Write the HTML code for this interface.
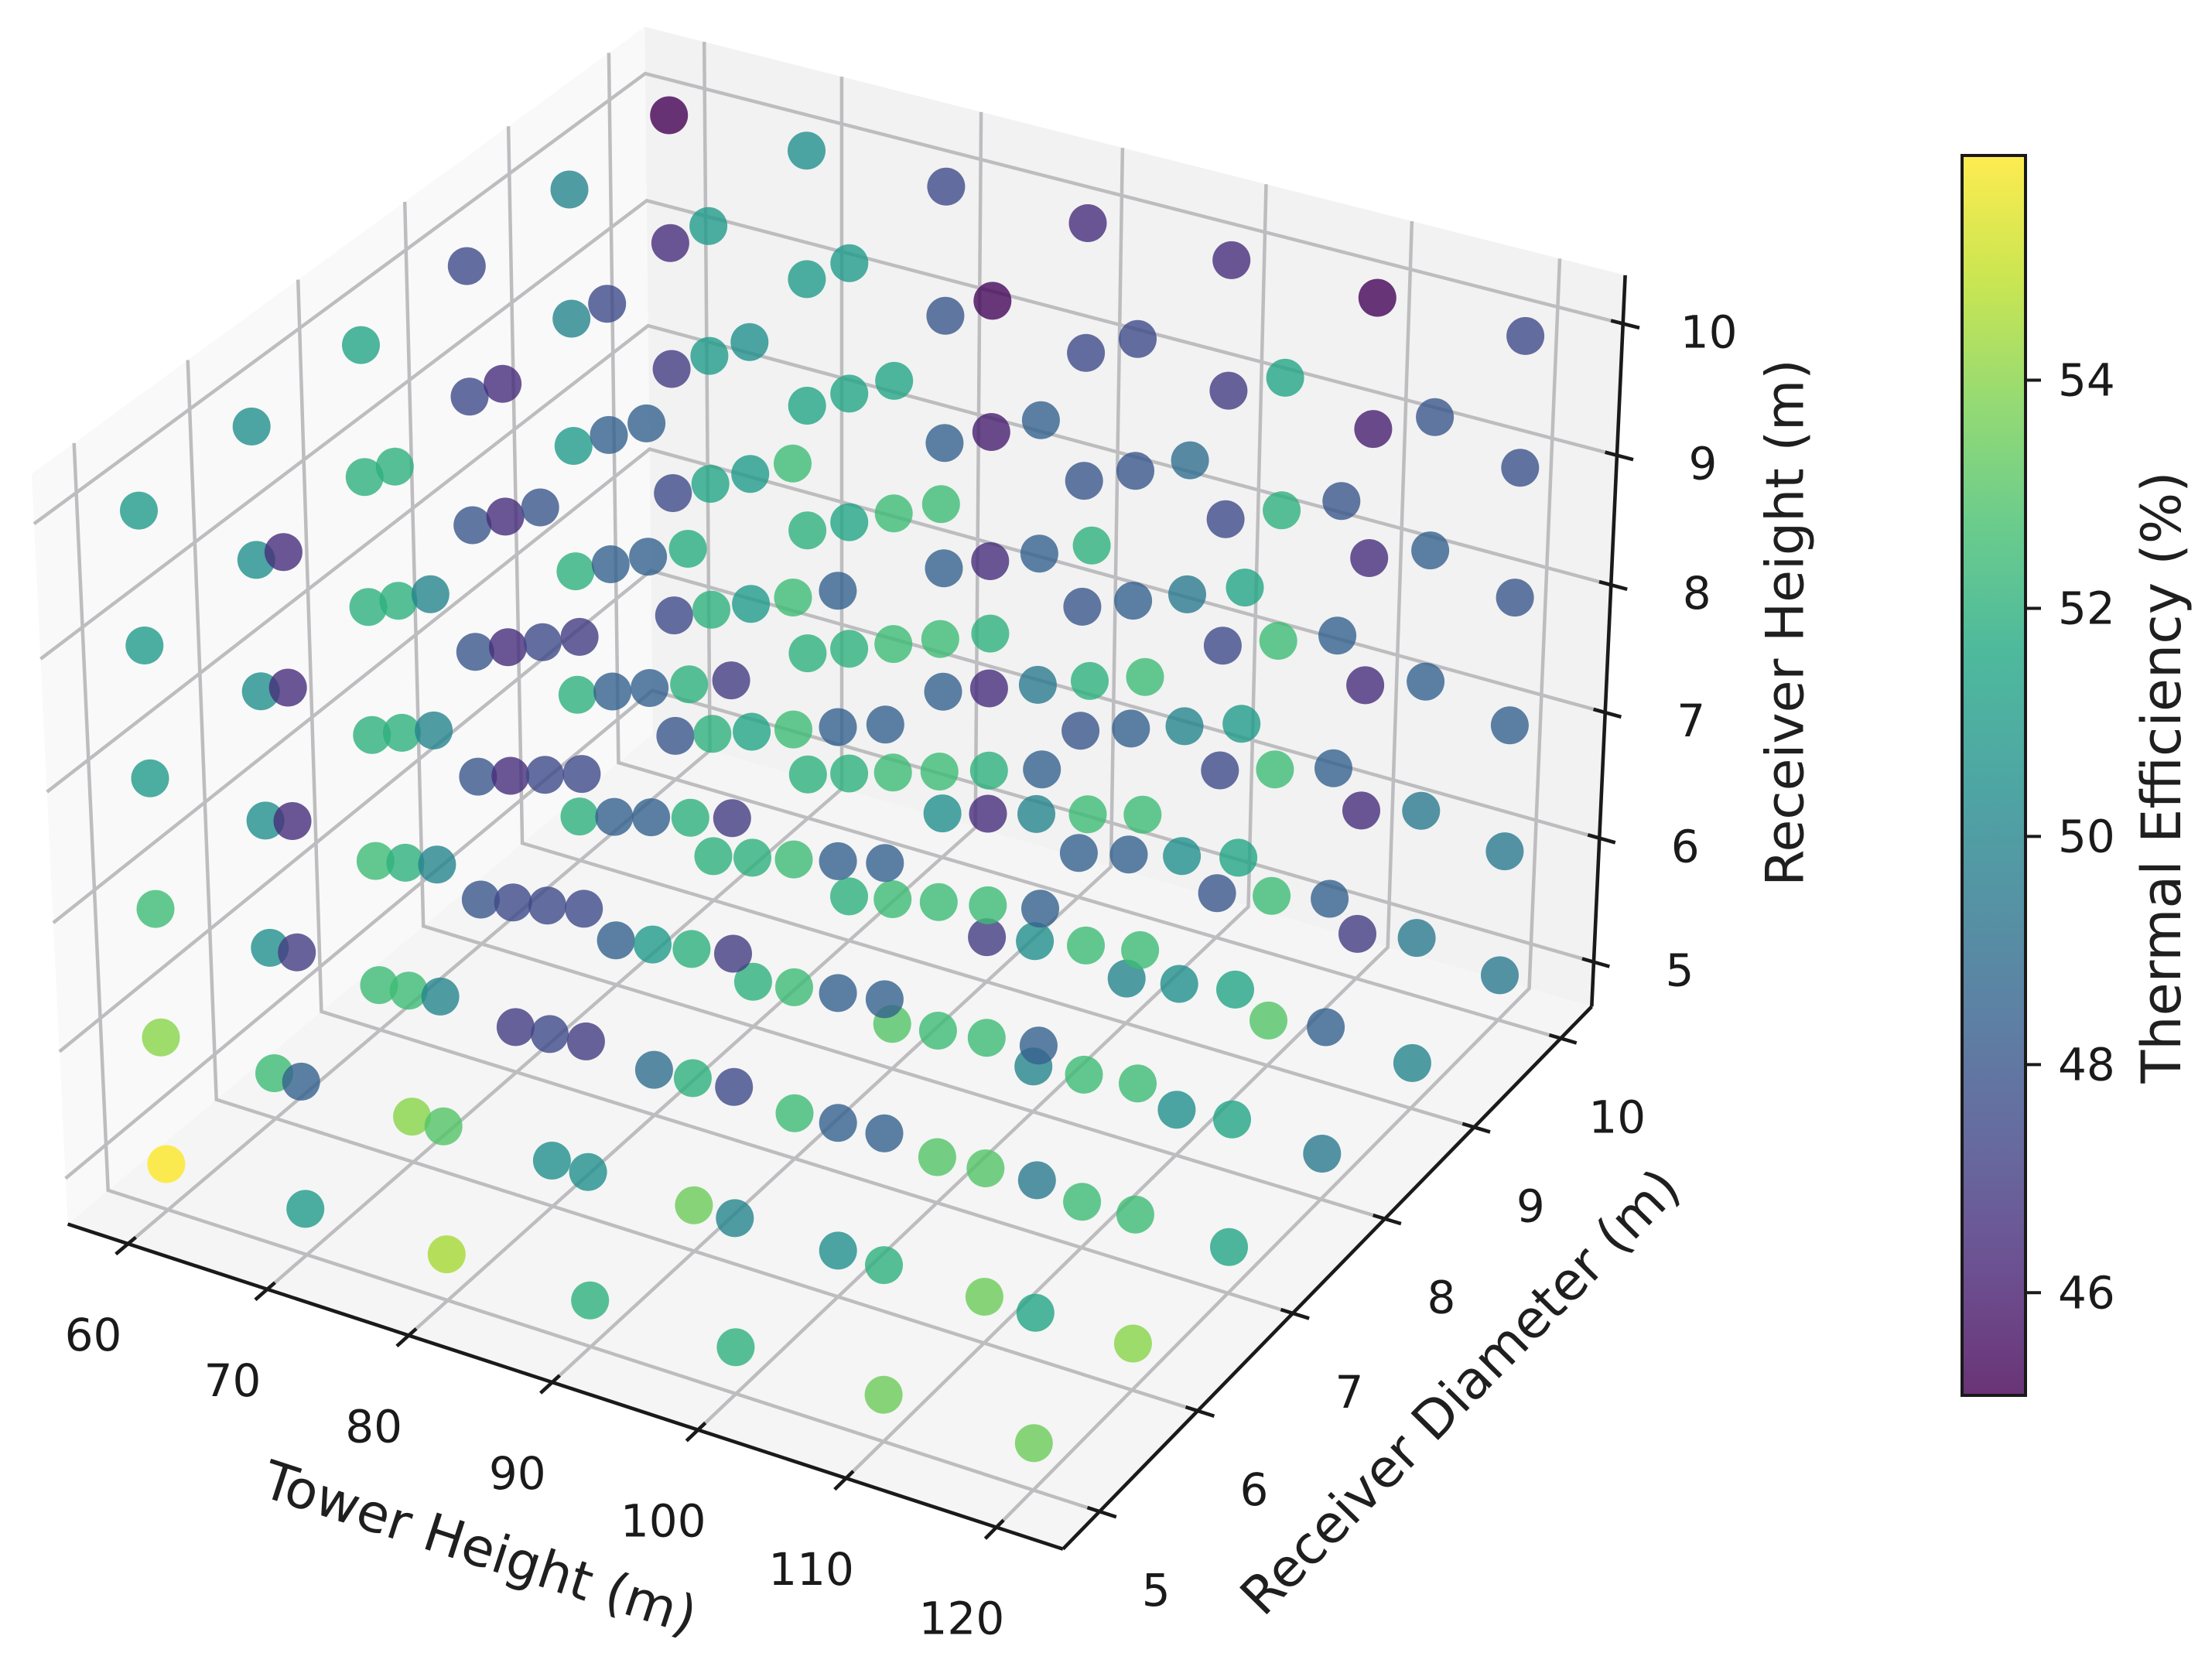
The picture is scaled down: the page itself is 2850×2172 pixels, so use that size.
<!DOCTYPE html>
<html><head><meta charset="utf-8">
<style>
html,body{margin:0;padding:0;background:#fff;}
svg{display:block;font-family:"DejaVu Sans","Liberation Sans",sans-serif;}
</style></head>
<body>
<svg id="chart" width="2850" height="2172" viewBox="0 0 2850 2172" xmlns="http://www.w3.org/2000/svg">
<defs>
<linearGradient id="vir" x1="0" y1="1" x2="0" y2="0">
<stop offset="0" stop-color="#440154" stop-opacity="0.8"/>
<stop offset="0.1" stop-color="#482475" stop-opacity="0.8"/>
<stop offset="0.2" stop-color="#414487" stop-opacity="0.8"/>
<stop offset="0.3" stop-color="#355f8d" stop-opacity="0.8"/>
<stop offset="0.4" stop-color="#2a788e" stop-opacity="0.8"/>
<stop offset="0.5" stop-color="#21918c" stop-opacity="0.8"/>
<stop offset="0.6" stop-color="#22a884" stop-opacity="0.8"/>
<stop offset="0.7" stop-color="#44bf70" stop-opacity="0.8"/>
<stop offset="0.8" stop-color="#7ad151" stop-opacity="0.8"/>
<stop offset="0.9" stop-color="#bddf26" stop-opacity="0.8"/>
<stop offset="1" stop-color="#fde725" stop-opacity="0.8"/>
</linearGradient>
</defs>
<g id="panes"></g>
<g id="grid"></g>
<g id="axes"></g>
<g id="points"></g>
<g id="cbar"></g>
<text x="620" y="2002" font-size="68" fill="#1f1f1f" text-anchor="middle" dominant-baseline="central" transform="rotate(18 620 2002)">Tower Height (m)</text>
<text x="1888" y="1800" font-size="68" fill="#1f1f1f" text-anchor="middle" dominant-baseline="central" transform="rotate(-45.5 1888 1800)">Receiver Diameter (m)</text>
<text x="2308" y="805" font-size="68" fill="#1f1f1f" text-anchor="middle" dominant-baseline="central" transform="rotate(-90 2308 805)">Receiver Height (m)</text>
<text x="2794" y="1005" font-size="70" fill="#1f1f1f" text-anchor="middle" dominant-baseline="central" transform="rotate(-90 2794 1005)">Thermal Efficiency (%)</text>
</svg>
<script>
const towers = [60, 70, 80, 90, 100, 110, 120];
const diameters = [5, 6, 7, 8, 9, 10];
const heights = [5, 6, 7, 8, 9, 10];
const xTicks = [60, 70, 80, 90, 100, 110, 120];
const yTicks = [5, 6, 7, 8, 9, 10];
const zTicks = [5, 6, 7, 8, 9, 10];
const cbarTicks = [46, 48, 50, 52, 54];
// efficiency per receiver height layer; rows = diameter 5..10, columns = tower 60..120
const effH5 = [
 55.97, 51, 54.5, 52, 52, 53.5, 53.5,
 52.5, 54, 50.5, 53.5, 50.5, 53.5, 54,
 52.5, 47, 49, 52.5, 53, 52.5, 51.5,
 48, 48.5, 52, 53, 50, 50.5, 49.5,
 52, 52, 52, 47, 50, 53, 50,
 48, 52, 50.5, 48.5, 48, 47, 49.5];
const effH6 = [
 54, 48.5, 53, 50.5, 50, 52, 51.5,
 50.5, 52.5, 47.5, 52, 48.5, 53, 52.5,
 52.5, 47.5, 51, 52.5, 52.5, 52.5, 51.5,
 48, 48.5, 52, 52.5, 50.5, 50.5, 48.5,
 52, 52, 52, 46.5, 48.5, 52.5, 49.5,
 47.5, 52, 48.5, 48, 47.5, 46.5, 49.5];
const effH7 = [
 52.5, 47, 50, 47, 47.5, 48.5, 49.5,
 50.5, 52, 47.5, 52, 48.5, 52.5, 52.5,
 52, 46.5, 48.5, 52.5, 52.5, 52.5, 51.5,
 48, 48.5, 51.5, 52.5, 50, 50.5, 48.5,
 52, 52, 52, 46.5, 48.5, 52.5, 49.5,
 47.5, 52, 48.5, 48, 47.5, 46.5, 48.5];
const effH8 = [
 51, 46.5, 50, 47.5, 47, 48.5, 48.5,
 50.5, 52, 47.5, 52, 48.5, 52.5, 52.5,
 52, 46.5, 48.5, 52.5, 52.5, 52.5, 51.5,
 48, 48.5, 51, 52.5, 49.5, 50, 48.5,
 51, 51.5, 51.5, 46.5, 48.5, 52.5, 48.5,
 47, 51.5, 48.5, 48, 47.5, 46.5, 48];
const effH9 = [
 51, 46.5, 50, 47.5, 47, 48.5, 48.5,
 50.5, 52, 47.5, 52, 48.5, 52, 52.5,
 52, 46.5, 48.5, 52.5, 52.5, 52, 51,
 47.5, 48.5, 51, 52.5, 48.5, 49.5, 48.5,
 50, 51, 51.5, 46, 48, 52, 48.5,
 46.5, 51, 48, 47.5, 47, 46, 47.8];
const effH10 = [
 51, 46.5, 50, 47, 47, 48.5, 48.5,
 50.5, 52, 48, 51.8, 48.5, 52, 52.5,
 51.5, 46.5, 48.5, 52.5, 52.5, 52, 51.5,
 47.5, 47.5, 50.5, 51.5, 48.5, 49, 48,
 50, 51, 51, 45.3, 47.5, 51.5, 48,
 45.1, 50.5, 47.5, 46.5, 46.5, 45.2, 47.5];
const effLayers = [effH5, effH6, effH7, effH8, effH9, effH10];

const NS = 'http://www.w3.org/2000/svg';
function mk(tag, attrs, parent){
  const e = document.createElementNS(NS, tag);
  for (const k in attrs) e.setAttribute(k, attrs[k]);
  parent.appendChild(e);
  return e;
}
function lim(arr){
  const mn = Math.min(...arr), mx = Math.max(...arr), r = mx - mn;
  return [mn - 0.05*r, mx + 0.05*r];
}
const XL = lim(towers), YL = lim(diameters), ZL = lim(heights);
function ext(L){ const d = (L[1]-L[0])/48; return [L[0]-d, L[1]+d]; }
const XE = ext(XL), YE = ext(YL), ZE = ext(ZL);
const AX = 4/Math.sqrt(41)*1.8294640721620434, AZ = 3/Math.sqrt(41)*1.8294640721620434;
const K = 12378, CX = 1090.6, CY = 971.3;
function proj(x, y, z){
  const a = ((x-XL[0])/(XL[1]-XL[0]) - 0.5)*AX;
  const b = ((y-YL[0])/(YL[1]-YL[0]) - 0.5)*AX;
  const c = ((z-ZL[0])/(ZL[1]-ZL[0]) - 0.5)*AZ;
  const sx = 0.866025*a + 0.5*b;
  const sy = -0.25*a + 0.433013*b + 0.866025*c;
  const sz = 0.433013*a - 0.75*b + 0.5*c - 10;
  return [CX + K*sx/(-sz), CY - K*sy/(-sz), -sz];
}
function pts(list){ return list.map(p => { const q = proj(p[0], p[1], p[2]); return q[0].toFixed(1)+','+q[1].toFixed(1); }).join(' '); }

const gP = document.getElementById('panes');
let e;
e = mk('polygon', {points: pts([[XE[0],YE[0],ZE[0]],[XE[0],YE[1],ZE[0]],[XE[0],YE[1],ZE[1]],[XE[0],YE[0],ZE[1]]]), fill:'#f9f9f9'}, gP);


e = mk('polygon', {points: pts([[XE[0],YE[1],ZE[0]],[XE[1],YE[1],ZE[0]],[XE[1],YE[1],ZE[1]],[XE[0],YE[1],ZE[1]]]), fill:'#f2f2f2'}, gP);


e = mk('polygon', {points: pts([[XE[0],YE[0],ZE[0]],[XE[1],YE[0],ZE[0]],[XE[1],YE[1],ZE[0]],[XE[0],YE[1],ZE[0]]]), fill:'#f5f5f5'}, gP);



const gG = document.getElementById('grid');
const gs = {fill:'none', stroke:'#bdbdc0', 'stroke-width':4.5};
xTicks.forEach(t => {
  e = mk('polyline', Object.assign({points: pts([[t,YE[0],ZE[0]],[t,YE[1],ZE[0]],[t,YE[1],ZE[1]]])}, gs), gG);
  
  
});
yTicks.forEach(t => {
  e = mk('polyline', Object.assign({points: pts([[XE[1],t,ZE[0]],[XE[0],t,ZE[0]],[XE[0],t,ZE[1]]])}, gs), gG);
  
  
});
zTicks.forEach(t => {
  e = mk('polyline', Object.assign({points: pts([[XE[0],YE[0],t],[XE[0],YE[1],t],[XE[1],YE[1],t]])}, gs), gG);
  
  
});

const gA = document.getElementById('axes');
const as = {fill:'none', stroke:'#1a1a1a', 'stroke-width':4.6};
e = mk('polyline', Object.assign({points: pts([[XE[0],YE[0],ZE[0]],[XE[1],YE[0],ZE[0]]])}, as), gA);


e = mk('polyline', Object.assign({points: pts([[XE[1],YE[0],ZE[0]],[XE[1],YE[1],ZE[0]]])}, as), gA);


e = mk('polyline', Object.assign({points: pts([[XE[1],YE[1],ZE[0]],[XE[1],YE[1],ZE[1]]])}, as), gA);


const tf = {fill:'#1a1a1a', 'font-size':58, 'text-anchor':'middle', 'dominant-baseline':'central'};
xTicks.forEach(t => {
  e = mk('polyline', Object.assign({points: pts([[t,YE[0]-0.11,ZE[0]],[t,YE[0]+0.07,ZE[0]]])}, as), gA);
  
  
  const p = proj(t, YE[0], ZE[0]);
  e = mk('text', Object.assign({x:(p[0]-45).toFixed(1), y:(p[1]+118).toFixed(1)}, tf), gA);
  e.textContent = String(t);
  
  
});
yTicks.forEach(t => {
  e = mk('polyline', Object.assign({points: pts([[XE[1]-0.8,t,ZE[0]],[XE[1]+1.1,t,ZE[0]]])}, as), gA);
  
  
  const p = proj(XE[1], t, ZE[0]);
  e = mk('text', Object.assign({x:(p[0]+73).toFixed(1), y:(p[1]+102).toFixed(1)}, tf), gA);
  e.textContent = String(t);
  
  
});
zTicks.forEach(t => {
  e = mk('polyline', Object.assign({points: pts([[XE[1]-0.8,YE[1],t],[XE[1]+1.1,YE[1],t]])}, as), gA);
  
  
  const p = proj(XE[1], YE[1], t);
  e = mk('text', Object.assign({x:(p[0]+111).toFixed(1), y:(p[1]+11).toFixed(1)}, tf), gA);
  e.textContent = String(t);
  
  
});

const VIR = ['#440154','#482475','#414487','#355f8d','#2a788e','#21918c','#22a884','#44bf70','#7ad151','#bddf26','#fde725'];
function hex2(h){ return [parseInt(h.substr(1,2),16), parseInt(h.substr(3,2),16), parseInt(h.substr(5,2),16)]; }
function cmap(t){
  t = Math.max(0, Math.min(1, t));
  const s = t*10, i = Math.min(9, Math.floor(s)), f = s - i;
  const a = hex2(VIR[i]), b = hex2(VIR[i+1]);
  return 'rgb(' + a.map((v,k) => Math.round(v + (b[k]-v)*f)).join(',') + ')';
}
const allEff = [].concat(...effLayers);
const vmin = Math.min(...allEff), vmax = Math.max(...allEff);

const recs = [];
heights.forEach((z, zi) => {
  diameters.forEach((y, yi) => {
    towers.forEach((x, xi) => {
      const v = effLayers[zi][yi*towers.length + xi];
      const p = proj(x, y, z);
      recs.push({x, y, z, v, p});
    });
  });
});
recs.sort((A, B) => B.p[2] - A.p[2]);
const gPts = document.getElementById('points');
recs.forEach(r => {
  e = mk('circle', {cx:r.p[0].toFixed(1), cy:r.p[1].toFixed(1), r:24.5, fill:cmap((r.v-vmin)/(vmax-vmin)), 'fill-opacity':0.8}, gPts);
  
  
});

const gC = document.getElementById('cbar');
const CB = {x0:2536, x1:2618, top:201, bot:1804};
e = mk('rect', {x:CB.x0, y:CB.top, width:CB.x1-CB.x0, height:CB.bot-CB.top, fill:'url(#vir)', stroke:'#1a1a1a', 'stroke-width':4}, gC);


cbarTicks.forEach(t => {
  const yy = CB.bot - (t - vmin)/(vmax - vmin)*(CB.bot - CB.top);
  e = mk('line', {x1:CB.x1, x2:CB.x1+20, y1:yy, y2:yy, stroke:'#1a1a1a', 'stroke-width':4}, gC);
  
  
  e = mk('text', {x:2660, y:yy.toFixed(1), fill:'#1a1a1a', 'font-size':58, 'dominant-baseline':'central'}, gC);
  e.textContent = String(t);
  
  
});
</script>
</body></html>
